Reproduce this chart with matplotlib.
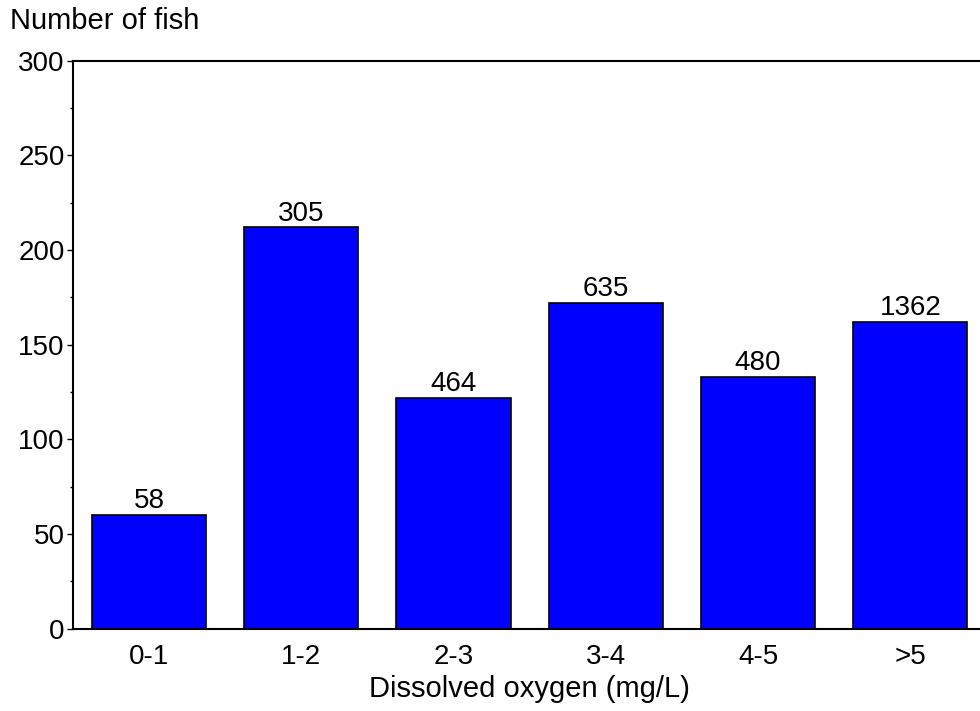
import matplotlib.pyplot as plt
from matplotlib.ticker import MultipleLocator

# Data
categories = ['0-1', '1-2', '2-3', '3-4', '4-5', '>5']
fish_counts = [60, 212, 122, 172, 133, 162]
sample_sizes = ['58', '305', '464', '635', '480', '1362']

plt.rcParams['font.family'] = ['Liberation Sans', 'DejaVu Sans']

fig = plt.figure(figsize=(9.8, 7.11), dpi=100)
ax = fig.add_axes([0.0745, 0.116, 0.932, 0.7986])

x = range(len(categories))
bars = ax.bar(x, fish_counts, width=0.75, color='#0000ff', edgecolor='black', linewidth=1.2)

# sample sizes above the bars
for b, lab in zip(bars, sample_sizes):
    ax.text(b.get_x() + b.get_width() / 2, b.get_height() + 0.3, lab,
            ha='center', va='bottom', fontsize=20)

ax.set_xlim(-0.5, 5.5)
ax.set_ylim(0, 300)
ax.set_xticks(list(x))
ax.set_xticklabels(categories)
ax.yaxis.set_major_locator(MultipleLocator(50))
ax.yaxis.set_minor_locator(MultipleLocator(25))
ax.tick_params(axis='y', which='major', length=4, width=1, labelsize=20, pad=2)
ax.tick_params(axis='y', which='minor', length=2, width=1)
ax.tick_params(axis='x', length=0, labelsize=20, pad=11)

ax.spines['right'].set_visible(False)
for s in ['left', 'bottom', 'top']:
    ax.spines[s].set_linewidth(1.5)

ax.set_xlabel('Dissolved oxygen (mg/L)', fontsize=21, labelpad=4)
fig.text(10 / 980, 1 - 29 / 711, 'Number of fish', fontsize=21, ha='left', va='baseline')

fig.savefig('out.png', dpi=100)
